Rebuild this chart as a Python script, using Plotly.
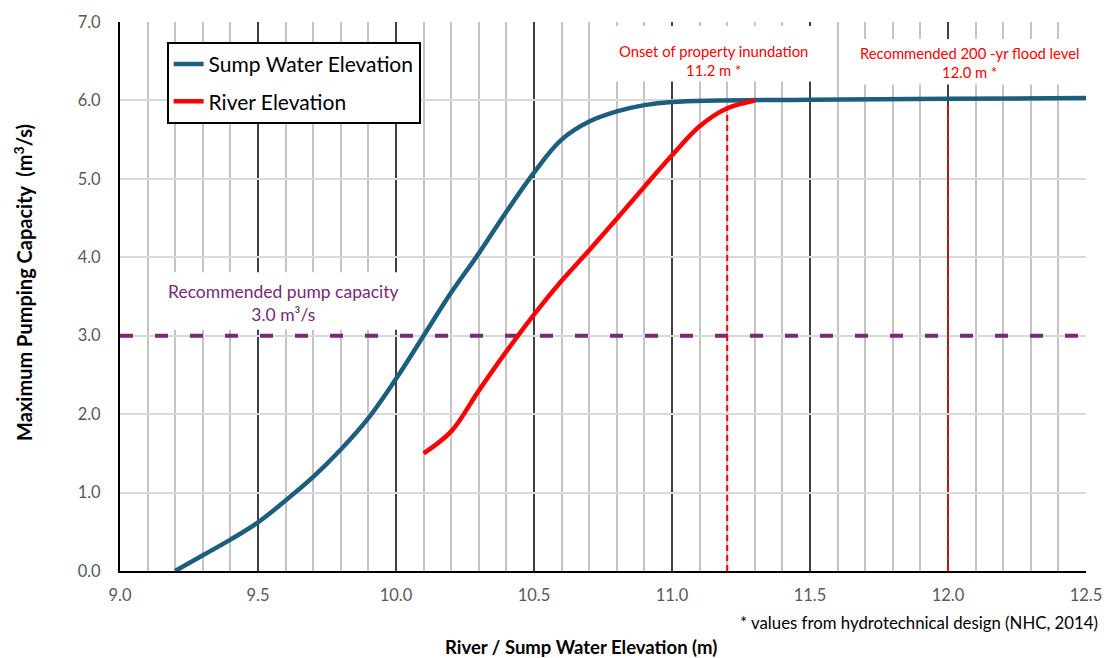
import plotly.graph_objects as go

# Data
sump_x = [9.2, 9.3, 9.4, 9.5, 9.6, 9.7, 9.8, 9.9, 10.0, 10.1, 10.2, 10.3, 10.4, 10.5,
          10.6, 10.7, 10.8, 10.9, 11.0, 11.5, 12.0, 12.5]
sump_y = [0.0, 0.2, 0.4, 0.62, 0.9, 1.2, 1.55, 1.95, 2.45, 3.0, 3.55, 4.05, 4.58, 5.08,
          5.5, 5.73, 5.86, 5.94, 5.98, 6.01, 6.02, 6.03]
river_x = [10.1, 10.2, 10.3, 10.4, 10.5, 10.6, 10.7, 10.8, 10.9, 11.0, 11.1, 11.2, 11.3]
river_y = [1.5, 1.78, 2.3, 2.8, 3.27, 3.7, 4.09, 4.49, 4.9, 5.3, 5.67, 5.9, 6.0]

pump_capacity = 3.0
inundation_level = 11.2
inundation_top = 5.9
flood_level = 12.0
flood_top = 6.02
x_ticks = [9.0, 9.5, 10.0, 10.5, 11.0, 11.5, 12.0, 12.5]
y_ticks = [0, 1, 2, 3, 4, 5, 6, 7]

FONT = "Lato, Open Sans, sans-serif"
PURPLE = "#762A78"

L, R = 120, 1094  # plot area edges (px)

fig = go.Figure()

# reference lines
fig.add_trace(go.Scatter(x=[9.0, 12.5], y=[pump_capacity, pump_capacity], mode="lines",
                         line=dict(color=PURPLE, width=4, dash="13px,22px"),
                         showlegend=False, hoverinfo="skip"))
fig.add_trace(go.Scatter(x=[inundation_level, inundation_level], y=[0, inundation_top], mode="lines",
                         line=dict(color="#FF0000", width=2, dash="6px,4px"),
                         showlegend=False, hoverinfo="skip"))
fig.add_trace(go.Scatter(x=[flood_level, flood_level], y=[0, flood_top], mode="lines",
                         line=dict(color="#FF0000", width=2, dash="6px,4px"),
                         showlegend=False, hoverinfo="skip"))

fig.add_trace(go.Scatter(x=sump_x, y=sump_y, mode="lines", name="Sump Water Elevation",
                         line=dict(color="#1B5E7E", width=4.5, shape="spline", smoothing=1.1),
                         legendgroup="a"))
fig.add_trace(go.Scatter(x=river_x, y=river_y, mode="lines", name="River Elevation",
                         line=dict(color="#FF0000", width=4.5, shape="spline", smoothing=1.0),
                         legendgroup="b"))

# white boxes behind labels (hide gridlines)
boxes = [
    (150, 422, 270, 328),
    (613, 835, 22, 78),
    (845, 1096, 35, 81),
]
def px2x(p):
    return 9.0 + (p - L) / (R - L) * 3.5
def px2y(p):
    return (571 - p) / 553 * 7.0
for x0, x1, y0, y1 in boxes:
    fig.add_shape(type="rect", xref="x", yref="y", x0=px2x(x0), x1=min(px2x(x1), 12.5),
                  y0=px2y(y1), y1=px2y(y0), fillcolor="white", line=dict(width=0),
                  layer="between")

fig.add_annotation(x=px2x(285), y=px2y(301), xref="x", yref="y", showarrow=False,
                   text="Recommended pump capacity<br>3.0 m³/s",
                   font=dict(family=FONT, size=17.5, color=PURPLE), align="center")
fig.add_annotation(x=px2x(718), y=px2y(57), xref="x", yref="y", showarrow=False,
                   text="Onset of property inundation<br>11.2 m *",
                   font=dict(family=FONT, size=14.8, color="#FF0000"), align="center")
fig.add_annotation(x=px2x(977), y=px2y(59), xref="x", yref="y", showarrow=False,
                   text="Recommended 200 -yr flood level<br>12.0 m *",
                   font=dict(family=FONT, size=14.8, color="#FF0000"), align="center")
fig.add_annotation(x=(1108 - L) / (R - L), y=(571 - 623) / 553, xref="paper", yref="paper",
                   showarrow=False, xanchor="right", yanchor="middle",
                   text="* values from hydrotechnical design (NHC, 2014)",
                   font=dict(family=FONT, size=16.8, color="black"))
fig.add_annotation(x=(585 - L) / (R - L), y=(571 - 648) / 553, xref="paper", yref="paper",
                   showarrow=False, xanchor="center", yanchor="middle",
                   text="<b>River / Sump Water Elevation (m)</b>",
                   font=dict(family=FONT, size=18.5, color="black"))
fig.add_annotation(x=(22 - L) / (R - L), y=(571 - 280) / 553, xref="paper", yref="paper",
                   showarrow=False, xanchor="center", yanchor="middle", textangle=-90,
                   text="<b>Maximum Pumping Capacity  (m<sup>3</sup>/s)</b>",
                   font=dict(family=FONT, size=20, color="black"))

fig.update_layout(
    width=1114, height=658,
    margin=dict(l=L, r=1114 - R, t=18, b=87),
    paper_bgcolor="white", plot_bgcolor="white",
    font=dict(family=FONT),
    legend=dict(x=(167 - L) / (R - L), y=(571 - 38) / 553, xanchor="left", yanchor="top",
                bgcolor="white", bordercolor="black", borderwidth=2,
                font=dict(family=FONT, size=21, color="black"),
                traceorder="grouped", tracegroupgap=7, itemwidth=30),
    xaxis=dict(range=[9.0, 12.5], tickvals=x_ticks, ticktext=[f"{v:.1f}" for v in x_ticks],
               showgrid=True, gridcolor="#404040", gridwidth=2,
               minor=dict(dtick=0.1, tick0=9.0, showgrid=True, gridcolor="#C4C4C4", gridwidth=2),
               showline=True, linecolor="black", linewidth=2, zeroline=False,
               tickfont=dict(family=FONT, size=16.5, color="#595959"), ticks="", ticklabelstandoff=8),
    yaxis=dict(range=[0, 7], tickvals=y_ticks, ticktext=[f"{v:.1f}" for v in y_ticks],
               showgrid=True, gridcolor="#D9D9D9", gridwidth=2,
               showline=True, linecolor="black", linewidth=2, zeroline=False,
               tickfont=dict(family=FONT, size=16.5, color="#595959"), ticks="", ticklabelstandoff=14),
)

fig.write_html("out.html", config={"displayModeBar": False},
               post_script="document.body.style.margin='0';")
